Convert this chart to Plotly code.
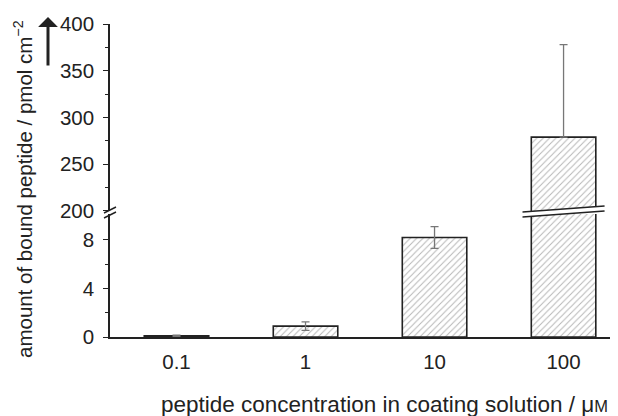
import plotly.graph_objects as go

categories = ["0.1", "1", "10", "100"]
bound = [0.1, 0.9, 8.2, 279]
err = [0.05, 0.35, 0.9, 99]
lower_ticks = [0, 4, 8]
lower_minor = [2, 6]
upper_ticks = [200, 250, 300, 350, 400]
upper_minor = [225, 275, 325, 375]

FONT = "Liberation Sans, Arial, sans-serif"
INK = "#222222"
HATCH = "#6e6e6e"

# page body has an 8px default margin; figure is sized to fit the window
PAD = 8
PLOT_L, PLOT_T, PLOT_W, PLOT_H = 110, 24, 508, 313

bar_style = dict(
    color="white",
    line=dict(color=INK, width=1.6),
    pattern=dict(shape="/", fgcolor=HATCH, bgcolor="white", size=4.5, solidity=0.22),
)

fig = go.Figure()
fig.add_trace(go.Bar(
    x=categories, y=bound, yaxis="y", width=0.5, marker=bar_style,
    error_y=dict(type="data", array=err, color="#777777", thickness=1.3, width=4),
    showlegend=False,
))
fig.add_trace(go.Bar(
    x=categories, y=bound, yaxis="y2", width=0.5, marker=bar_style,
    error_y=dict(type="data", symmetric=False, array=err, arrayminus=[0] * len(err),
                 color="#777777", thickness=1.3, width=4),
    showlegend=False,
))

L_TOP = 0.393
U_BOT = 0.4026

axis_common = dict(
    showline=True, linecolor=INK, linewidth=1.5, showgrid=False, zeroline=False,
    ticks="outside", ticklen=5, tickwidth=1.3, tickcolor=INK, automargin=False,
    ticklabelstandoff=5,
    tickfont=dict(family=FONT, size=20.5, color=INK),
)

fig.update_layout(
    width=618 - PAD, height=416 - PAD,
    margin=dict(l=PLOT_L - PAD, r=0, t=PLOT_T - PAD, b=416 - PAD - (PLOT_T - PAD) - PLOT_H),
    paper_bgcolor="white", plot_bgcolor="white",
    bargap=0.5,
    xaxis=dict(
        domain=[0, 1], range=[-0.5155, 3.422], anchor="y", automargin=False,
        showline=True, linecolor=INK, linewidth=1.5, showgrid=False, zeroline=False,
        ticks="outside", ticklen=6, tickcolor="rgba(0,0,0,0)",
        tickfont=dict(family=FONT, size=20.5, color=INK),
    ),
    yaxis=dict(
        domain=[0, L_TOP], range=[0, 10.14], anchor="x",
        tickmode="array", tickvals=lower_ticks,
        minor=dict(tickmode="array", tickvals=lower_minor, ticks="outside", ticklen=3, tickcolor=INK),
        **axis_common,
    ),
    yaxis2=dict(
        domain=[U_BOT, 1], range=[200, 400], anchor="x",
        tickmode="array", tickvals=upper_ticks,
        minor=dict(tickmode="array", tickvals=upper_minor, ticks="outside", ticklen=3, tickcolor=INK),
        **axis_common,
    ),
)


def px_x(p):
    return (p - PLOT_L) / PLOT_W


def py(p):
    return (PLOT_T + PLOT_H - p) / PLOT_H


# x-axis title
fig.add_annotation(
    text="peptide concentration in coating solution / μ<span style='font-size:16.5px'>M</span>",
    xref="paper", yref="paper", x=px_x(384), y=py(404),
    xanchor="center", yanchor="middle", showarrow=False,
    font=dict(family=FONT, size=22.5, color=INK),
)

# y-axis title and arrow
fig.add_annotation(
    text="amount of bound peptide / pmol cm<sup>−2</sup>",
    xref="paper", yref="paper", x=px_x(23), y=py(189),
    xanchor="center", yanchor="middle", textangle=-90, showarrow=False,
    font=dict(family=FONT, size=20.5, color=INK),
)
fig.add_annotation(
    text="", xref="paper", yref="paper", x=px_x(48), y=py(17),
    ax=0, ay=50, showarrow=True, arrowhead=1, arrowwidth=3, arrowsize=1.1, arrowcolor=INK,
)

# axis break marks on the y axis
for (y0, y1) in [(213, 207), (218, 212)]:
    fig.add_shape(type="line", xref="paper", yref="paper",
                  x0=px_x(104), x1=px_x(116), y0=py(y0), y1=py(y1),
                  line=dict(color=INK, width=1.4))

# break across the tall bar
xc = 3
hw = 0.318
fig.add_shape(type="path", xref="x", yref="paper",
              path=f"M {xc-hw},{py(217)} L {xc+hw},{py(211)} L {xc+hw},{py(206)} L {xc-hw},{py(212)} Z",
              fillcolor="white", line=dict(width=0), layer="above")
for (y0, y1) in [(212, 206), (217, 211)]:
    fig.add_shape(type="line", xref="x", yref="paper",
                  x0=xc - hw, x1=xc + hw, y0=py(y0), y1=py(y1),
                  line=dict(color=INK, width=1.6), layer="above")

fig.write_html("out.html")
